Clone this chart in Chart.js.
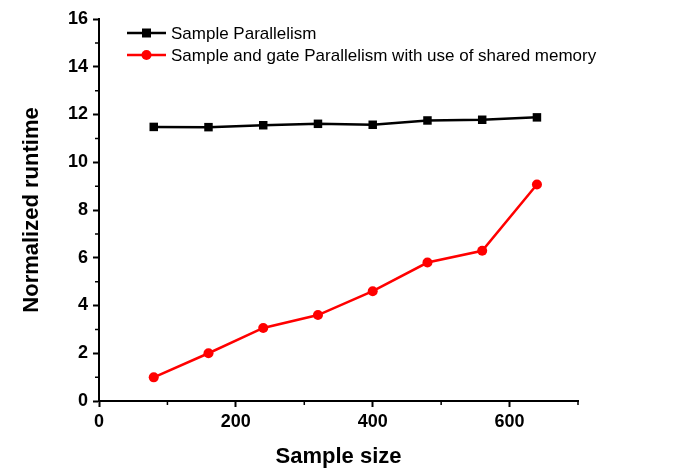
<!DOCTYPE html>
<html lang="en">
<head>
    <meta charset="UTF-8">
    <title>Normalized runtime vs sample size</title>
    <script src="https://cdn.jsdelivr.net/npm/chart.js"></script>
    <style>
        body { margin: 0; background: #fff; }
    </style>
</head>
<body>
    <canvas id="runtimeChart" width="681" height="470"></canvas>
    <script>
        const sampleSizes = [80, 160, 240, 320, 400, 480, 560, 640];
        const sampleParallelism = [11.48, 11.47, 11.55, 11.61, 11.57, 11.75, 11.78, 11.88];
        const sharedMemory = [0.99, 2.0, 3.06, 3.6, 4.6, 5.8, 6.29, 9.07];
        const seriesNames = ['Sample Parallelism', 'Sample and gate Parallelism with use of shared memory'];
        const xMinorTicks = [100, 300, 500, 700];
        const yMinorTicks = [1, 3, 5, 7, 9, 11, 13, 15];

        const tickFont = { family: 'Arial, "Liberation Sans"', size: 18, weight: 'bold' };
        const titleFont = { family: 'Arial, "Liberation Sans"', size: 22, weight: 'bold' };

        // legend sits inside the plot, top left, like the original figure
        const insideLegend = {
            id: 'insideLegend',
            afterDraw(chart) {
                const ctx = chart.ctx;
                ctx.save();
                ctx.font = '17px Arial, "Liberation Sans"';
                ctx.textBaseline = 'middle';
                chart.data.datasets.forEach((ds, i) => {
                    const y = 33 + i * 22;
                    ctx.strokeStyle = ds.borderColor;
                    ctx.lineWidth = 2.5;
                    ctx.beginPath();
                    ctx.moveTo(127, y);
                    ctx.lineTo(166, y);
                    ctx.stroke();
                    ctx.fillStyle = ds.borderColor;
                    ctx.beginPath();
                    if (ds.pointStyle === 'rect') {
                        ctx.rect(142, y - 4.5, 9, 9);
                    } else {
                        ctx.arc(146.5, y, 5, 0, Math.PI * 2);
                    }
                    ctx.fill();
                    ctx.fillStyle = '#000';
                    ctx.fillText(ds.label, 171, y + 1);
                });
                ctx.restore();
            }
        };

        // short minor ticks between the labelled ones
        const minorTicks = {
            id: 'minorTicks',
            afterDraw(chart) {
                const ctx = chart.ctx;
                const xs = chart.scales.x, ys = chart.scales.y;
                ctx.save();
                ctx.strokeStyle = '#000';
                ctx.lineWidth = 1.5;
                ctx.beginPath();
                xMinorTicks.forEach(v => {
                    const px = xs.getPixelForValue(v);
                    ctx.moveTo(px, ys.bottom);
                    ctx.lineTo(px, ys.bottom + 4);
                });
                yMinorTicks.forEach(v => {
                    const py = ys.getPixelForValue(v);
                    ctx.moveTo(xs.left, py);
                    ctx.lineTo(xs.left - 4, py);
                });
                ctx.stroke();
                ctx.restore();
            }
        };

        new Chart(document.getElementById('runtimeChart'), {
            type: 'line',
            data: {
                labels: sampleSizes,
                datasets: [{
                    label: seriesNames[0],
                    data: sampleSizes.map((x, i) => ({ x: x, y: sampleParallelism[i] })),
                    borderColor: '#000000',
                    backgroundColor: '#000000',
                    borderWidth: 2.5,
                    pointStyle: 'rect',
                    pointRadius: 6,
                    pointBorderWidth: 0,
                    tension: 0
                }, {
                    label: seriesNames[1],
                    data: sampleSizes.map((x, i) => ({ x: x, y: sharedMemory[i] })),
                    borderColor: '#ff0000',
                    backgroundColor: '#ff0000',
                    borderWidth: 2.5,
                    pointStyle: 'circle',
                    pointRadius: 5,
                    pointBorderWidth: 0,
                    tension: 0
                }]
            },
            options: {
                responsive: false,
                animation: false,
                layout: { padding: { top: 19, right: 103, left: 0, bottom: 0 } },
                plugins: {
                    legend: { display: false },
                    tooltip: { enabled: false }
                },
                scales: {
                    x: {
                        type: 'linear',
                        min: 0,
                        max: 700,
                        afterFit(scale) { scale.height = 69; },
                        border: { color: '#000', width: 2 },
                        grid: { drawOnChartArea: false, tickLength: 6, tickWidth: 2, tickColor: '#000' },
                        ticks: {
                            stepSize: 200,
                            includeBounds: false,
                            color: '#000',
                            font: tickFont,
                            padding: 4,
                            maxRotation: 0
                        },
                        title: {
                            display: true,
                            text: 'Sample size',
                            color: '#000',
                            font: titleFont,
                            padding: 0
                        }
                    },
                    y: {
                        min: 0,
                        max: 16,
                        afterFit(scale) { scale.width = 99; },
                        border: { color: '#000', width: 2 },
                        grid: { drawOnChartArea: false, tickLength: 6, tickWidth: 2, tickColor: '#000' },
                        ticks: {
                            stepSize: 2,
                            color: '#000',
                            font: tickFont,
                            padding: 5
                        },
                        title: {
                            display: true,
                            text: 'Normalized runtime',
                            color: '#000',
                            font: titleFont,
                            padding: { top: 19, bottom: 0 }
                        }
                    }
                }
            },
            plugins: [insideLegend, minorTicks]
        });
    </script>
</body>
</html>
